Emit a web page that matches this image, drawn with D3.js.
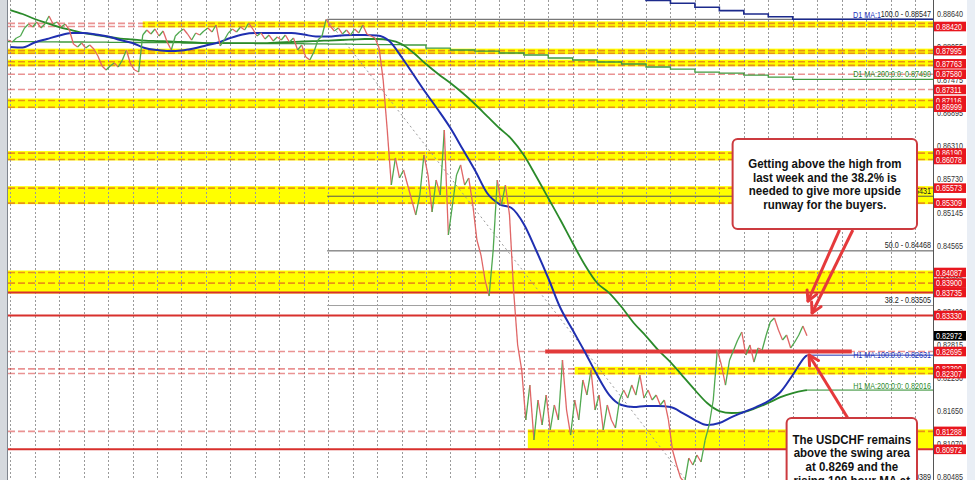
<!DOCTYPE html>
<html><head><meta charset="utf-8">
<script src="https://cdn.jsdelivr.net/npm/d3@7"></script>
<style>html,body{margin:0;padding:0;background:#fff;overflow:hidden}svg{display:block}</style>
</head><body><svg id="c" width="975" height="480"></svg>
<script>
// ---------------- DATA ----------------
// H1 closes, first bar at hour -2, one value every 4 hours
const closeStartHour = -2, closeStepHours = 4;
const closes = [
0.88182,0.88147,0.88218,0.88253,0.88394,0.88464,0.88411,0.88499,0.88394,0.88464,
0.88605,0.88464,0.88499,0.88411,0.88464,0.88359,0.88112,0.88059,0.8813,0.88041,
0.88094,0.88024,0.87901,0.87724,0.87654,0.87724,0.87777,0.87707,0.8783,0.88006,
0.8776,0.87654,0.87619,0.8827,0.88359,0.88288,0.88376,0.88253,0.88341,0.88147,
0.88006,0.88253,0.88323,0.88376,0.88288,0.88182,0.88306,0.8827,0.88341,0.88394,
0.88323,0.88447,0.88077,0.88182,0.88306,0.88376,0.88323,0.88411,0.88359,0.88482,
0.88376,0.88253,0.88306,0.882,0.8827,0.88165,0.88235,0.88182,0.8827,0.88147,
0.88218,0.88006,0.88094,0.87883,0.8783,0.87971,0.88182,0.88253,0.88547,0.88429,
0.88341,0.88394,0.88288,0.88359,0.8827,0.88376,0.88306,0.88447,0.88288,0.88253,
0.88218,0.88041,0.87478,0.86597,0.85628,0.86104,0.85752,0.85892,0.85628,0.85364,
0.851,0.85452,0.86157,0.85804,0.85153,0.85716,0.85452,0.86597,0.84747,0.85276,
0.85804,0.85981,0.85628,0.85752,0.85276,0.84659,0.84395,0.83955,0.83673,0.84483,
0.85716,0.85276,0.85628,0.851,0.83779,0.8281,0.82369,0.81489,0.82105,0.81136,
0.81841,0.81401,0.81929,0.81313,0.81753,0.81489,0.82546,0.81665,0.81224,0.81841,
0.81489,0.82193,0.81929,0.82369,0.81665,0.81929,0.81313,0.81753,0.81489,0.81348,
0.81841,0.82017,0.81876,0.82105,0.81929,0.82281,0.81876,0.82017,0.81841,0.81929,
0.81753,0.81841,0.81489,0.8096,0.80696,0.80467,0.80395,0.80819,0.80696,0.80872,
0.80749,0.81136,0.81401,0.81841,0.82722,0.82457,0.82105,0.82546,0.82722,0.82898,
0.83039,0.82634,0.8281,0.8251,0.82757,0.82722,0.82986,0.83215,0.83285,0.83074,
0.82898,0.82986,0.82757,0.82863,0.82986,0.83145,0.82972];
const currentPrice = 0.82972;

// H1 moving averages sampled every 12 hours from hour 0
const maStepHours = 12, maLastHour = 782;
const h1Ma100 = [0.88059,0.8805,0.88138,0.8820,0.88261,0.88305,0.88305,0.88279,0.88244,0.88182,
0.88129,0.88041,0.88006,0.87988,0.87997,0.88032,0.88085,0.88138,0.88217,0.88279,
0.88305,0.88305,0.88305,0.88305,0.88279,0.88244,0.88244,0.88261,0.8827,0.8827,
0.88261,0.88164,0.87883,0.87565,0.87248,0.86949,0.86632,0.86262,0.85892,0.85487,
0.85293,0.85223,0.84941,0.84483,0.8399,0.83461,0.83074,0.82686,0.82281,0.81929,
0.81753,0.81717,0.81735,0.81735,0.81717,0.81612,0.81488,0.814,0.81435,0.81541,
0.81629,0.81717,0.81823,0.81982,0.82281,0.826];
const h1Ma100Last = 0.82631;
const h1Ma200 = [0.8871,0.8864,0.88552,0.88481,0.88411,0.88358,0.88305,0.8827,0.88235,0.88208,
0.88191,0.88173,0.88164,0.88156,0.88147,0.88138,0.88129,0.88129,0.88129,0.88129,
0.88129,0.88129,0.88138,0.88147,0.88156,0.88164,0.88173,0.88182,0.88191,0.882,
0.882,0.88182,0.88112,0.87953,0.87759,0.87583,0.87425,0.87248,0.87055,0.86843,
0.86632,0.86438,0.86156,0.85786,0.85399,0.85011,0.84606,0.84219,0.83902,0.83725,
0.83479,0.83197,0.82968,0.82721,0.8251,0.82263,0.82017,0.81788,0.81647,0.81612,
0.81629,0.817,0.81788,0.81893,0.81964,0.8201];
const h1Ma200Last = 0.82016;

// Daily MAs, one value per day (day k starts at hour 24k)
const d1Ma200 = [0.88154,0.8815,0.88147,0.88145,0.88142,0.88138,0.88135,0.8813,0.88128,0.88124,
0.8812,0.88117,0.88113,0.8811,0.88105,0.88101,0.88094,0.88041,0.88006,0.87988,
0.87953,0.87918,0.87865,0.8783,0.87795,0.8776,0.87707,0.87671,0.87618,0.876,
0.87565,0.8753,0.8749];
const d1Ma100FirstDay = 25;
const d1Ma100 = [0.8893,0.88878,0.88829,0.88758,0.88699,0.8864,0.88593,0.88547];

// Horizontal levels
const bandTop        = [0.88475,0.87995,0.87800,0.87116,0.86190,0.85573,0.84087,0.82390,0.81288];
const bandBottom     = [0.88420,0.87950,0.87735,0.86999,0.86078,0.85309,0.83735,0.82307,0.81000];
const bandStartHour  = [130,-3,-3,-3,-3,-3,-3,554,508];
const dashedLevels = [0.88475,0.88420,0.87995,0.87950,0.87800,0.87735,0.87580,0.87311,0.87116,0.86999,
  0.86190,0.86078,0.85573,0.85309,0.84087,0.83900,0.82695,0.82390,0.82307,0.81288];
const solidLevels = [0.83735,0.83330,0.80972];
const swingLevel = 0.82695, swingFromHour = 525, swingToHour = 826;
const redLabels = [0.88420,0.87995,0.87763,0.87580,0.87311,0.87116,0.86999,0.86190,0.86078,0.85573,
  0.85309,0.84087,0.83900,0.83735,0.83330,0.82695,0.82390,0.82307,0.81288,0.80972];
const axisTicks = [0.88640,0.88055,0.87475,0.86895,0.86310,0.85730,0.85145,0.84565,0.83985,0.83400,
  0.82815,0.82230,0.81650,0.81070,0.80485];

// Fibonacci retracement
const fibHigh = 0.88547, fibLow = 0.80389, fibHighHour = 311, fibLowHour = 665;
const fibRatios = [100.0, 61.8, 50.0, 38.2, 0.0];

// Annotations (anchored in hours / price)
const notes = [
  {h0:709, h1:890, p0:0.86439, p1:0.84853,
   lines:["Getting above the high from","last week and the 38.2% is","needed to give more upside","runway for the buyers."]},
  {h0:762, h1:890, p0:0.81524, p1:0.8030,
   lines:["The USDCHF remains","above the swing area","at 0.8269 and the","rising 100 hour MA at"]}
];
const arrows = [[814,0.84836,783,0.83585],[827,0.84836,787,0.83374],[822,0.81524,784,0.82634]];

// ---------------- DRAW ----------------
const W = 975, H = 480, plotL = 8, plotR = 933;
const x = d3.scaleLinear().domain([-2.26, 905.7]).range([plotL, plotR]);
const y = d3.scaleLinear().domain([0.80432, 0.88887]).range([H, 0]);
const svg = d3.select('#c');
svg.append('rect').attr('width',W).attr('height',H).attr('fill','#fff');
svg.append('defs').append('clipPath').attr('id','plot').append('rect')
  .attr('x',plotL).attr('y',0).attr('width',plotR-plotL).attr('height',H);
const g = svg.append('g').attr('clip-path','url(#plot)');

// yellow bands
g.selectAll('rect.band').data(bandTop).join('rect').attr('class','band')
  .attr('x',(d,i)=>Math.max(plotL,x(bandStartHour[i])))
  .attr('width',(d,i)=>plotR-Math.max(plotL,x(bandStartHour[i])))
  .attr('y',d=>y(d)-2)
  .attr('height',(d,i)=>y(bandBottom[i])-y(d)+3)
  .attr('fill','#ffff00');

// vertical dotted grid (one line per day)
const days = d3.range(0, 40).filter(k=>x(24*k) < plotR);
g.selectAll('line.grid').data(days).join('line')
  .attr('x1',k=>Math.round(x(24*k))+0.5).attr('x2',k=>Math.round(x(24*k))+0.5)
  .attr('y1',0).attr('y2',H).attr('stroke','#9a9a9a').attr('stroke-width',1)
  .attr('stroke-dasharray','2,2');

// dashed levels
g.selectAll('line.dl').data(dashedLevels).join('line')
  .attr('x1',plotL).attr('x2',plotR).attr('y1',d=>y(d)).attr('y2',d=>y(d))
  .attr('stroke','rgba(214,40,40,0.5)').attr('stroke-width',1.6).attr('stroke-dasharray','7,3');

// fib lines
const fibPrice = r => fibLow + r/100*(fibHigh-fibLow);
g.selectAll('line.fib').data(fibRatios).join('line')
  .attr('x1',x(fibHighHour)).attr('x2',plotR)
  .attr('y1',r=>y(fibPrice(r))).attr('y2',r=>y(fibPrice(r)))
  .attr('stroke',r=>r===38.2?'#a0a0a0':'#555').attr('stroke-width',1);
g.append('line').attr('x1',x(fibHighHour)).attr('y1',y(fibHigh))
  .attr('x2',x(fibLowHour)).attr('y2',y(fibLow))
  .attr('stroke','#9a9a9a').attr('stroke-width',1).attr('stroke-dasharray','2,3');

// solid red levels
g.selectAll('line.sl').data(solidLevels).join('line')
  .attr('x1',plotL).attr('x2',plotR).attr('y1',d=>y(d)).attr('y2',d=>y(d))
  .attr('stroke','#d8302c').attr('stroke-width',2);

// D1 MAs (stepped)
const step = d3.line().curve(d3.curveStepAfter).x(d=>x(d[0])).y(d=>y(d[1]));
const d1a = d1Ma200.map((v,k)=>[24*k, v]); d1a.unshift([-3, d1Ma200[0]]); d1a.push([906, d1Ma200[d1Ma200.length-1]]);
g.append('path').attr('d',step(d1a)).attr('fill','none').attr('stroke','#3f9a3f').attr('stroke-width',1.3);
const d1b = d1Ma100.map((v,i)=>[24*(d1Ma100FirstDay+i), v]); d1b.push([906, d1Ma100[d1Ma100.length-1]]);
g.append('path').attr('d',step(d1b)).attr('fill','none').attr('stroke','#1c2a8c').attr('stroke-width',1.6);

// H1 MAs
const smooth = d3.line().curve(d3.curveMonotoneX).x(d=>x(d[0])).y(d=>y(d[1]));
function maPts(arr,last){ const p = arr.map((v,j)=>[j*maStepHours, v]); p.push([maLastHour,last]); return p; }
const m200 = maPts(h1Ma200,h1Ma200Last), m100 = maPts(h1Ma100,h1Ma100Last);
g.append('path').attr('d',smooth(m200)).attr('fill','none').attr('stroke','#2a8a2a').attr('stroke-width',1.8);
g.append('line').attr('x1',x(maLastHour)).attr('x2',plotR).attr('y1',y(h1Ma200Last)).attr('y2',y(h1Ma200Last))
  .attr('stroke','#2a8a2a').attr('stroke-width',1);

// swing line
g.append('line').attr('x1',x(swingFromHour)).attr('x2',x(swingToHour)).attr('y1',y(swingLevel)).attr('y2',y(swingLevel))
  .attr('stroke','#e23a3a').attr('stroke-width',4);

g.append('path').attr('d',smooth(m100)).attr('fill','none').attr('stroke','#1f2fb0').attr('stroke-width',2);
g.append('line').attr('x1',x(maLastHour)).attr('x2',plotR).attr('y1',y(h1Ma100Last)).attr('y2',y(h1Ma100Last))
  .attr('stroke','#1f2fb0').attr('stroke-width',1);

// price path as up/down coloured segments
const segs = d3.range(1, closes.length).map(i=>({
  h0: closeStartHour+(i-1)*closeStepHours, h1: closeStartHour+i*closeStepHours, a: closes[i-1], b: closes[i]}));
g.selectAll('line.px').data(segs).join('line')
  .attr('x1',d=>x(d.h0)).attr('x2',d=>x(d.h1)).attr('y1',d=>y(d.a)).attr('y2',d=>y(d.b))
  .attr('stroke',d=>d.b>=d.a?'#4fa84f':'#e06565').attr('stroke-width',1.3);

// --- text labels in plot
const small = (sel, txt, xx, yy, color, anchor='end') =>
  sel.append('text').attr('transform',`translate(${xx},${yy}) scale(0.8,1)`)
    .attr('text-anchor',anchor).attr('font-family','Liberation Sans, Arial, sans-serif')
    .attr('font-size',9).attr('fill',color).text(txt);
const lx = plotR-2;
fibRatios.forEach(r=>{
  const p = fibPrice(r);
  small(svg, `${r.toFixed(1)} - ${p.toFixed(5)}`, lx, y(p)-2.5, '#222');
});
small(svg, 'D1 MA:1', lx-50, y(d1Ma100[d1Ma100.length-1])-1.5, '#2233bb');
small(svg, `D1 MA:200:0:0: ${d1Ma200[d1Ma200.length-1].toFixed(5)}`, lx, y(d1Ma200[d1Ma200.length-1])-2, '#2a8a2a');
small(svg, `H1 MA:100:0:0: ${h1Ma100Last.toFixed(5)}`, lx, y(h1Ma100Last)+2.5, '#2233bb');
small(svg, `H1 MA:200:0:0: ${h1Ma200Last.toFixed(5)}`, lx, y(h1Ma200Last)-1, '#2a8a2a');

// --- frame and right axis
svg.append('rect').attr('x',0).attr('y',0).attr('width',7).attr('height',H).attr('fill','#d5d9de');
svg.append('line').attr('x1',7.5).attr('x2',7.5).attr('y1',0).attr('y2',H).attr('stroke','#80868f');
svg.append('rect').attr('x',plotR).attr('y',0).attr('width',W-plotR).attr('height',H).attr('fill','#fff');
svg.append('rect').attr('x',967).attr('y',0).attr('width',8).attr('height',H).attr('fill','#e9eef5');
svg.append('line').attr('x1',plotR+0.5).attr('x2',plotR+0.5).attr('y1',0).attr('y2',H).attr('stroke','#555');
axisTicks.forEach(t=>small(svg, t.toFixed(5), 937, y(t)+3.2, '#333', 'start'));
function tag(v, fill){
  svg.append('rect').attr('x',934).attr('y',y(v)-4.8).attr('width',32).attr('height',9.6).attr('fill',fill);
  small(svg, v.toFixed(5), 936, y(v)+3.2, '#fff', 'start');
}
redLabels.forEach(v=>tag(v,'#e8161e'));
tag(currentPrice,'#000');

// --- annotations
const ac = '#e5393b';
function arrow(a){
  const x1=x(a[0]), y1=y(a[1]), x2=x(a[2]), y2=y(a[3]);
  const ang = Math.atan2(y2-y1, x2-x1), L = 11;
  svg.append('line').attr('x1',x1).attr('y1',y1).attr('x2',x2).attr('y2',y2).attr('stroke',ac).attr('stroke-width',3);
  [0.5,-0.5].forEach(s=>svg.append('line').attr('x1',x2).attr('y1',y2)
    .attr('x2',x2-L*Math.cos(ang+s)).attr('y2',y2-L*Math.sin(ang+s)).attr('stroke',ac).attr('stroke-width',3)
    .attr('stroke-linecap','round'));
}
arrows.forEach(arrow);
notes.forEach((n,ni)=>{
  const x0=x(n.h0), x1=x(n.h1), y0=y(n.p0), y1=y(n.p1);
  svg.append('rect').attr('x',x0).attr('y',y0).attr('width',x1-x0).attr('height',y1-y0)
    .attr('rx',5).attr('fill','#fff').attr('stroke','#cc3a3f').attr('stroke-width',2);
  const cx=(x0+x1)/2;
  const firstBase = ni===0 ? (y0+y1)/2 - 1.5*13.8 + 4.5 : y0+25.5;
  n.lines.forEach((t,i)=>svg.append('text')
    .attr('transform',`translate(${cx},${firstBase+i*13.8}) scale(0.92,1)`)
    .attr('text-anchor','middle').attr('font-family','Liberation Sans, Arial, sans-serif')
    .attr('font-weight','bold').attr('font-size',12.5).attr('fill','#111').text(t));
});
</script></body></html>
